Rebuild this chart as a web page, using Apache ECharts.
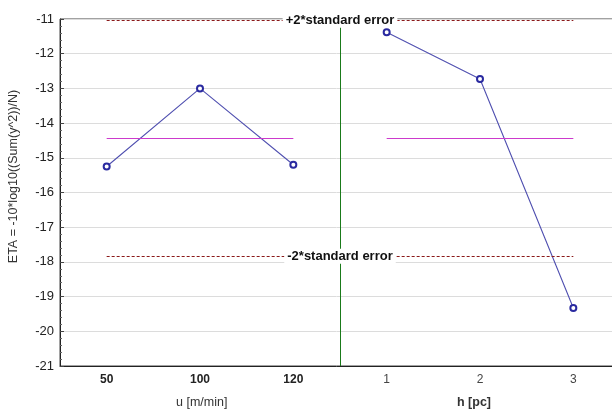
<!DOCTYPE html>
<html>
<head>
<meta charset="utf-8">
<script src="https://cdn.jsdelivr.net/npm/echarts@6/dist/echarts.min.js"></script>
<style>
  html, body { margin: 0; padding: 0; background: #fff; }
  #chart { width: 612px; height: 411px; }
</style>
</head>
<body>
<div id="chart"></div>
<script>
// factor levels and mean ETA per level
var uLevels = ['50', '100', '120'];
var uEta = [-15.25, -13.0, -15.2];
var hLevels = ['1', '2', '3'];
var hEta = [-11.38, -12.73, -19.33];

// grand mean and +-2*standard error
var meanEta = -14.45;
var upperSE = -11.05;
var lowerSE = -17.85;

var yMin = -21, yMax = -11;

var cats = uLevels.concat(hLevels);
var leftData = uEta.concat(hLevels.map(function () { return null; }));
var rightData = uLevels.map(function () { return null; }).concat(hEta);

var font = '"Liberation Sans", Arial, sans-serif';

// dashed error line across both factors, label sits on the line
function seLine(v, text) {
    return [
        { coord: [uLevels[0], v], label: { formatter: text } },
        { coord: [hLevels[hLevels.length - 1], v] }
    ];
}

// grand mean line over one factor
function meanLine(levels) {
    return [
        {
            coord: [levels[0], meanEta],
            lineStyle: { color: '#cc3acc', type: 'solid', width: 1.2 },
            label: { show: false }
        },
        { coord: [levels[levels.length - 1], meanEta] }
    ];
}

var myChart = echarts.init(document.getElementById('chart'));
myChart.setOption({
    animation: false,
    textStyle: { fontFamily: font },
    grid: {
        left: 60, top: 19, width: 560, height: 347,
        outerBoundsMode: 'none',
        containLabel: false,
        show: true, borderColor: '#444', borderWidth: 1
    },
    xAxis: [
        {
            type: 'category',
            data: cats,
            axisLine: { lineStyle: { color: '#222' } },
            axisTick: { inside: true, alignWithLabel: true, length: 4, lineStyle: { color: '#444' } },
            axisLabel: {
                margin: 8,
                formatter: function (val, idx) {
                    return idx < uLevels.length ? '{b|' + val + '}' : '{n|' + val + '}';
                },
                rich: {
                    b: { fontWeight: 'bold', fontSize: 12, color: '#222', fontFamily: font },
                    n: { fontSize: 12, color: '#444', fontFamily: font }
                }
            },
            splitLine: { show: false }
        },
        {
            // hidden helper axis: green divider between the two factors
            type: 'value',
            position: 'bottom',
            min: 0, max: cats.length, interval: uLevels.length,
            axisLine: { show: false },
            axisTick: { show: false },
            axisLabel: { show: false },
            splitLine: {
                show: true, showMinLine: false, showMaxLine: false,
                lineStyle: { color: '#1a7a1a', width: 1 }
            }
        }
    ],
    yAxis: {
        type: 'value',
        min: yMin, max: yMax, interval: 1,
        name: 'ETA = -10*log10((Sum(y^2))/N)',
        nameLocation: 'middle',
        nameGap: 40,
        nameTextStyle: { fontSize: 12.5, color: '#333', padding: [0, 0, 0, 32] },
        axisLine: { show: true, lineStyle: { color: '#222' } },
        axisTick: { show: true, inside: true, length: 4, lineStyle: { color: '#444' } },
        minorTick: { show: true, splitNumber: 5, length: 2, lineStyle: { color: '#666' } },
        axisLabel: { fontSize: 13, color: '#222', margin: 6 },
        splitLine: { lineStyle: { color: '#dcdcdc' } }
    },
    graphic: [
        { type: 'text', left: 176, top: 396, style: { text: 'u [m/min]', fontSize: 12.5, fill: '#333', fontFamily: font } },
        { type: 'text', left: 457, top: 396, style: { text: 'h [pc]', fontSize: 12.5, fontWeight: 'bold', fill: '#333', fontFamily: font } }
    ],
    series: [
        {
            type: 'line',
            data: leftData,
            symbol: 'emptyCircle',
            symbolSize: 6,
            lineStyle: { color: '#5050b0', width: 1.1 },
            itemStyle: { color: '#2a2aa0', borderWidth: 1.5 },
            markLine: {
                silent: true,
                symbol: 'none',
                data: [
                    meanLine(uLevels),
                    seLine(upperSE, '+2*standard error'),
                    seLine(lowerSE, '-2*standard error')
                ],
                lineStyle: { color: '#8b1a1a', type: [3, 2], width: 1 },
                label: {
                    position: 'middle',
                    offset: [0, 12],
                    fontSize: 13,
                    fontWeight: 'bold',
                    color: '#111',
                    backgroundColor: '#fff',
                    padding: [1, 3]
                }
            },
            z: 4
        },
        {
            type: 'line',
            data: rightData,
            symbol: 'emptyCircle',
            symbolSize: 6,
            lineStyle: { color: '#5050b0', width: 1.1 },
            itemStyle: { color: '#2a2aa0', borderWidth: 1.5 },
            markLine: {
                silent: true,
                symbol: 'none',
                label: { show: false },
                data: [meanLine(hLevels)]
            },
            z: 3
        }
    ]
});
</script>
</body>
</html>
